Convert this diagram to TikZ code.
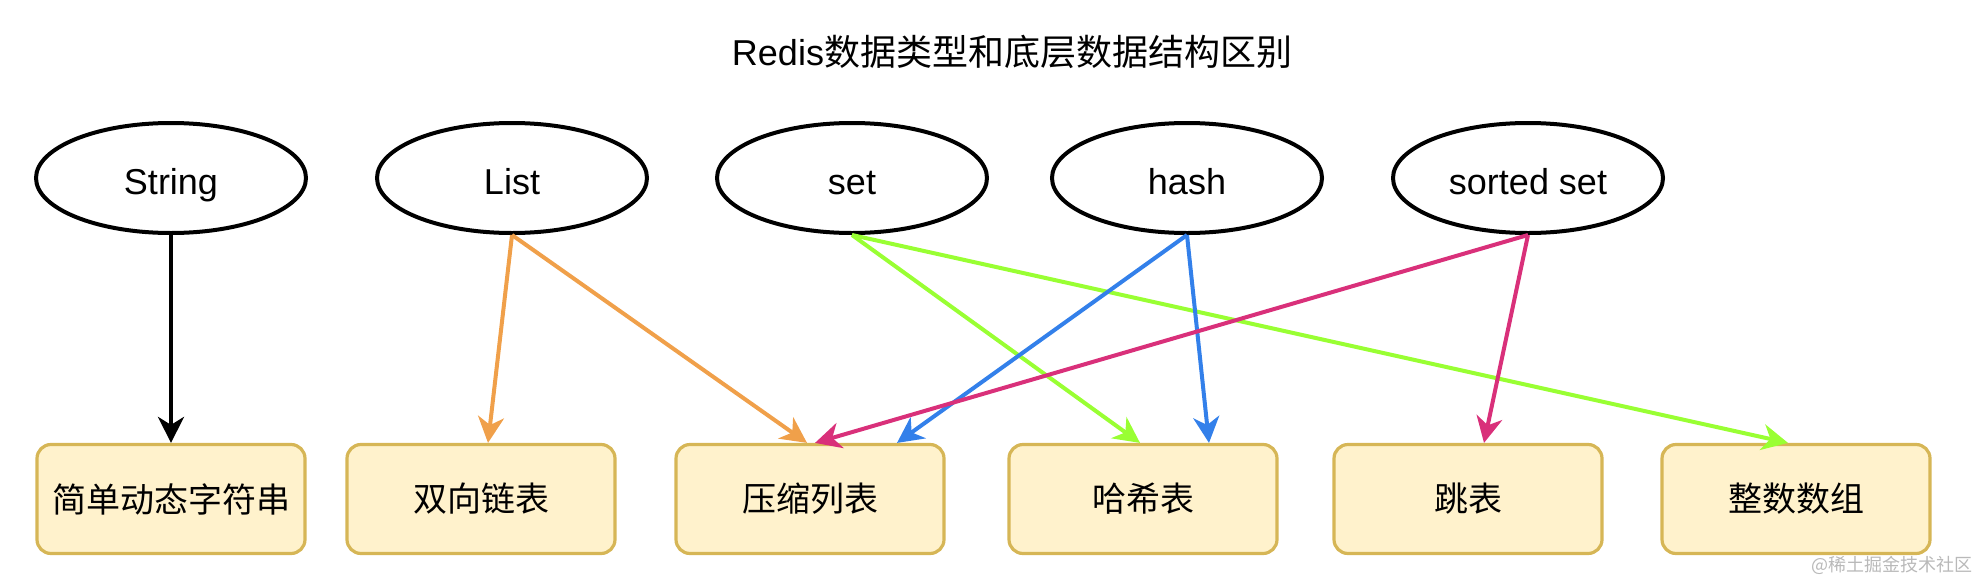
\documentclass[tikz,border=0pt]{standalone}
\usepackage{fontspec}
\setmainfont{Liberation Sans}
\newfontfamily\cjk{Noto Sans CJK SC}
\usetikzlibrary{shapes.geometric,arrows.meta}
\definecolor{boxfill}{HTML}{FFF2CC}
\definecolor{boxline}{HTML}{D6B656}
\definecolor{listorange}{HTML}{F0A04A}
\definecolor{setgreen}{HTML}{99FF33}
\definecolor{hashblue}{HTML}{3380EA}
\definecolor{zsetpink}{HTML}{D9307A}

\begin{document}
\begin{tikzpicture}[x=1pt,y=-1pt,
    dtype/.style={draw, ellipse, line width=4pt, minimum width=270pt, minimum height=110pt, inner sep=0pt, text height=32pt, text depth=0pt, font=\fontsize{36}{43}\selectfont},
    impl/.style={draw=boxline, fill=boxfill, rounded corners=14pt, line width=3.2pt, minimum width=268pt, minimum height=109pt, inner sep=0pt, font=\fontsize{34}{41}\selectfont\cjk},
    link/.style={line width=4pt, -{Stealth[length=26pt,width=26pt,inset=8pt]}}]
    \useasboundingbox (0,0) rectangle (1981,581);

    % Title
    \node[font=\fontsize{36}{43}\selectfont] (title) at (1012,52) {Redis{\cjk 数据类型和底层数据结构区别}};

    % Data types (top row)
    \node[dtype] (str)  at (171,178)  {String};
    \node[dtype] (lst)  at (512,178)  {List};
    \node[dtype] (set)  at (852,178)  {set};
    \node[dtype] (hash) at (1187,178) {hash};
    \node[dtype] (zset) at (1528,178) {sorted set};

    % Underlying structures (bottom row)
    \node[impl] (sds)    at (171,499)  {简单动态字符串};
    \node[impl] (dlist)  at (481,499)  {双向链表};
    \node[impl] (ziplst) at (810,499)  {压缩列表};
    \node[impl] (htable) at (1143,499) {哈希表};
    \node[impl] (skip)   at (1468,499) {跳表};
    \node[impl] (intset) at (1796,499) {整数数组};

    % String
    \draw[link] (str.south) -- (sds.north);

    % List
    \draw[link, listorange] (lst.south) -- ([xshift=7pt]dlist.north);
    \draw[link, listorange] (lst.south) -- ([xshift=-3pt]ziplst.north);

    % set
    \draw[link, setgreen] (set.south) -- ([xshift=-3pt]htable.north);
    \draw[link, setgreen] (set.south) -- ([xshift=-8pt]intset.north);

    % hash
    \draw[link, hashblue] (hash.south) -- ([xshift=87pt]ziplst.north);
    \draw[link, hashblue] (hash.south) -- ([xshift=66pt]htable.north);

    % sorted set
    \draw[link, zsetpink] (zset.south) -- ([xshift=5pt]ziplst.north);
    \draw[link, zsetpink] (zset.south) -- ([xshift=16pt]skip.north);

    % Watermark
    \node[text=gray!55, font=\fontsize{18}{22}\selectfont\cjk, anchor=east] (mark) at (1976,565) {@稀土掘金技术社区};
\end{tikzpicture}
\end{document}
